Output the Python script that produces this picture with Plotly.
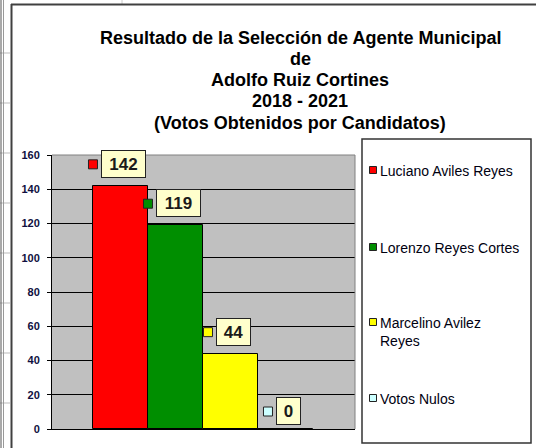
import plotly.graph_objects as go

# ---- data ----
candidates = ["Luciano Aviles Reyes", "Lorenzo Reyes Cortes", "Marcelino Avilez Reyes", "Votos Nulos"]
legend_labels = ["Luciano Aviles Reyes", "Lorenzo Reyes Cortes", "Marcelino Avilez<br>Reyes", "Votos Nulos"]
votes = [142, 119, 44, 0]
colors = ["#FF0000", "#008E00", "#FFFF00", "#CCFFFF"]
y_ticks = [0, 20, 40, 60, 80, 100, 120, 140, 160]
title_lines = [
    "Resultado de la Selección de Agente Municipal",
    "de",
    "Adolfo Ruiz Cortines",
    "2018 - 2021",
    "(Votos Obtenidos por Candidatos)",
]

# ---- layout geometry (pixels) ----
W, H = 536, 448
L, R, T, B = 52, 355, 155, 429
FONT = "Liberation Sans, Arial, sans-serif"


def px(x):
    return (x - L) / (R - L)


def py(y):
    return (B - y) / (B - T)


fig = go.Figure()
for name, v, c in zip(candidates, votes, colors):
    fig.add_trace(go.Bar(
        x=[name], y=[v], name=name, width=1,
        marker=dict(color=c, line=dict(color="#000000", width=1)),
        showlegend=False, hoverinfo="name+y",
    ))

annotations = []
shapes = []

# data labels with legend keys
for i, (name, v, c) in enumerate(zip(candidates, votes, colors)):
    txt = str(v)
    inner_w = 10 * len(txt) + 7
    box_w = inner_w + 7
    ysh = 8 if v > 0 else 4
    xsh = 3
    annotations.append(dict(
        x=name, y=v, xref="x", yref="y", text=f"<b>{txt}</b>", showarrow=False,
        xanchor="center", yanchor="bottom", xshift=xsh, yshift=ysh,
        font=dict(family=FONT, size=17, color="#1a1a1a"),
        bgcolor="#FFFFCC", bordercolor="#222222", borderwidth=1, borderpad=3,
        width=inner_w, height=20,
    ))
    mc = xsh - box_w / 2 - 8.5
    yc = ysh + 13.5
    shapes.append(dict(
        type="rect", xref="x", yref="y", xsizemode="pixel", ysizemode="pixel",
        xanchor=i, yanchor=v, x0=mc - 4.5, x1=mc + 4.5, y0=yc - 4.5, y1=yc + 4.5,
        fillcolor=c, line=dict(color="#222222", width=1), layer="above",
    ))

# plot area border (top and right)
shapes.append(dict(
    type="path", xref="paper", yref="paper",
    path=f"M {px(L)},{py(T)} L {px(R)},{py(T)} L {px(R)},{py(B)}",
    line=dict(color="#808080", width=1), layer="above",
))

# title
for k, line in enumerate(title_lines):
    annotations.append(dict(
        x=px(300), y=py(37.5 + 21.3 * k), xref="paper", yref="paper",
        text=f"<b>{line}</b>", showarrow=False, xanchor="center", yanchor="middle",
        font=dict(family=FONT, size=18, color="#000000"),
    ))

# legend (manual)
shapes.append(dict(
    type="rect", xref="paper", yref="paper",
    x0=px(362), x1=px(531), y0=py(443), y1=py(139),
    line=dict(color="#333333", width=1.5), fillcolor="#FFFFFF", layer="below",
))
key_y = [170, 247, 322, 398]
for lab, c, ky in zip(legend_labels, colors, key_y):
    shapes.append(dict(
        type="rect", xref="paper", yref="paper",
        x0=px(369.5), x1=px(376.5), y0=py(ky + 3.5), y1=py(ky - 3.5),
        fillcolor=c, line=dict(color="#222222", width=1),
    ))
    annotations.append(dict(
        x=px(378), y=py(ky - 9), xref="paper", yref="paper", text=lab,
        showarrow=False, xanchor="left", yanchor="top", align="left",
        font=dict(family=FONT, size=14, color="#000010"),
    ))

# spreadsheet background and chart frame
for yy in range(53, 448, 50):
    shapes.append(dict(type="line", xref="paper", yref="paper",
                       x0=px(0), x1=px(10), y0=py(yy), y1=py(yy),
                       line=dict(color="#BBBBBB", width=1)))
shapes.append(dict(type="line", xref="paper", yref="paper",
                   x0=px(1), x1=px(1), y0=py(0), y1=py(448),
                   line=dict(color="#555555", width=1)))
shapes.append(dict(type="line", xref="paper", yref="paper",
                   x0=px(3.5), x1=px(3.5), y0=py(0), y1=py(448),
                   line=dict(color="#999999", width=1)))
shapes.append(dict(type="line", xref="paper", yref="paper",
                   x0=px(122), x1=px(122), y0=py(0), y1=py(4),
                   line=dict(color="#CCCCCC", width=1)))
shapes.append(dict(type="line", xref="paper", yref="paper",
                   x0=px(11), x1=px(536), y0=py(4.5), y1=py(4.5),
                   line=dict(color="#404040", width=2)))
shapes.append(dict(type="line", xref="paper", yref="paper",
                   x0=px(11.5), x1=px(11.5), y0=py(4), y1=py(448),
                   line=dict(color="#404040", width=2)))

fig.update_layout(
    width=W, height=H,
    margin=dict(l=L, r=W - R, t=T, b=H - B, pad=0),
    paper_bgcolor="#FFFFFF", plot_bgcolor="#C0C0C0",
    barmode="overlay", bargap=0,
    showlegend=False,
    annotations=annotations, shapes=shapes,
    xaxis=dict(type="category", categoryorder="array", categoryarray=candidates,
               range=[-1.245, 4.264], showticklabels=False, ticks="",
               showgrid=False, showline=True, linecolor="#000000", linewidth=1,
               zeroline=False, fixedrange=True),
    yaxis=dict(range=[0, 160], tickvals=y_ticks, ticktext=[str(t) for t in y_ticks],
               showgrid=True, gridcolor="#000000", gridwidth=1,
               showline=True, linecolor="#000000", linewidth=1,
               ticks="outside", ticklen=4, tickcolor="#000000",
               ticklabelstandoff=5,
               tickfont=dict(family=FONT, size=11, color="#101040", weight="bold"),
               zeroline=False, fixedrange=True),
)

fig.write_html(
    "out.html",
    config={"displayModeBar": False},
    post_script="document.body.style.margin='0';document.body.style.overflow='hidden';",
)
